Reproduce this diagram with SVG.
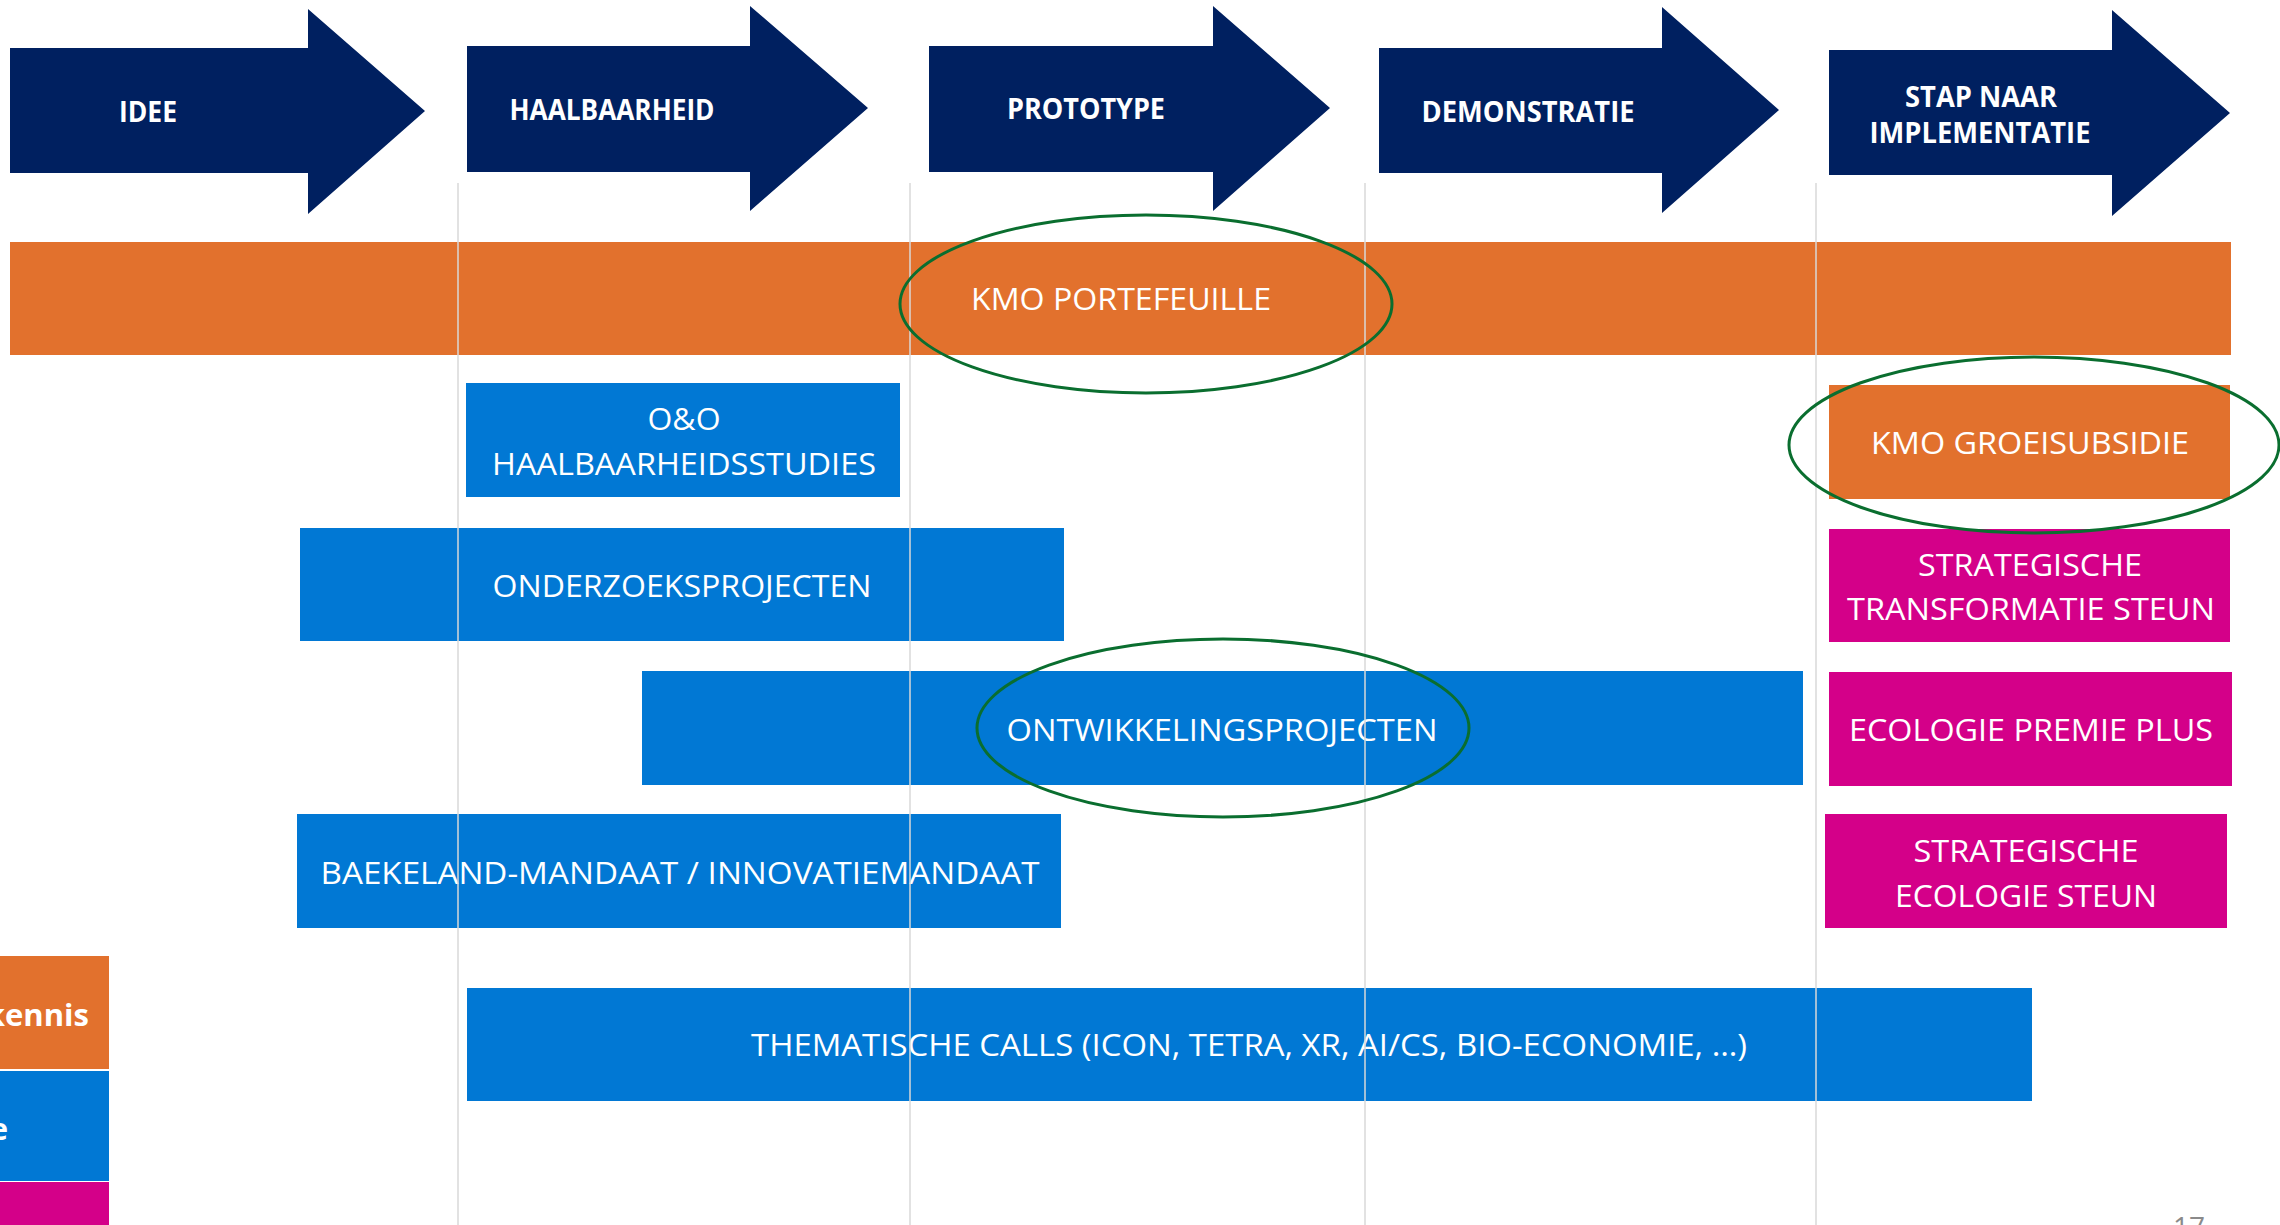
<svg xmlns="http://www.w3.org/2000/svg" width="2280" height="1225" viewBox="0 0 2280 1225">
<style>
.arrow{fill:#002060}
.hd{font-family:"Open Sans","Liberation Sans",sans-serif;font-weight:bold;font-size:29px;fill:#fff;text-anchor:middle}
.lb{font-family:"Open Sans","Liberation Sans",sans-serif;font-size:31px;fill:#fff;text-anchor:middle}
.lg{font-family:"Open Sans","Liberation Sans",sans-serif;font-weight:bold;font-size:31px;fill:#fff;text-anchor:end}
.or{fill:#E2712D}
.bl{fill:#0178D4}
.mg{fill:#D40089}
.grid{stroke:#D9D9D9;stroke-width:1.5}
.ring{fill:none;stroke:#0A6E2F;stroke-width:3}
</style>
<rect width="2280" height="1225" fill="#fff"/>

<g id="phase-idee">
<polygon class="arrow" points="10,48 308,48 308,9 425,111 308,214 308,173 10,173"/>
<text class="hd" x="148" y="122" textLength="58" lengthAdjust="spacingAndGlyphs">IDEE</text>
</g>
<g id="phase-haalbaarheid">
<polygon class="arrow" points="467,46 750,46 750,6 868,108 750,211 750,172 467,172"/>
<text class="hd" x="612" y="120" textLength="205" lengthAdjust="spacingAndGlyphs">HAALBAARHEID</text>
</g>
<g id="phase-prototype">
<polygon class="arrow" points="929,46 1213,46 1213,6 1330,108 1213,211 1213,172 929,172"/>
<text class="hd" x="1086" y="119" textLength="158" lengthAdjust="spacingAndGlyphs">PROTOTYPE</text>
</g>
<g id="phase-demonstratie">
<polygon class="arrow" points="1379,48 1662,48 1662,7 1779,110 1662,213 1662,173 1379,173"/>
<text class="hd" x="1528" y="122" textLength="213" lengthAdjust="spacingAndGlyphs">DEMONSTRATIE</text>
</g>
<g id="phase-implementatie">
<polygon class="arrow" points="1829,50 2112,50 2112,10 2230,113 2112,216 2112,175 1829,175"/>
<text class="hd" x="1981" y="107" textLength="152" lengthAdjust="spacingAndGlyphs">STAP NAAR</text>
<text class="hd" x="1980" y="143" textLength="221" lengthAdjust="spacingAndGlyphs">IMPLEMENTATIE</text>
</g>

<g id="kmo-portefeuille">
<rect class="or" x="10" y="242" width="2221" height="113"/>
<text class="lb" x="1121" y="310" textLength="300" lengthAdjust="spacingAndGlyphs">KMO PORTEFEUILLE</text>
</g>
<g id="oo-haalbaarheidsstudies">
<rect class="bl" x="466" y="383" width="434" height="114"/>
<text class="lb" x="684" y="430" textLength="73" lengthAdjust="spacingAndGlyphs">O&amp;O</text>
<text class="lb" x="684" y="475" textLength="384" lengthAdjust="spacingAndGlyphs">HAALBAARHEIDSSTUDIES</text>
</g>
<g id="kmo-groeisubsidie">
<rect class="or" x="1829" y="385" width="401" height="114"/>
<text class="lb" x="2030" y="454" textLength="318" lengthAdjust="spacingAndGlyphs">KMO GROEISUBSIDIE</text>
</g>
<g id="onderzoeksprojecten">
<rect class="bl" x="300" y="528" width="764" height="113"/>
<text class="lb" x="682" y="597" textLength="379" lengthAdjust="spacingAndGlyphs">ONDERZOEKSPROJECTEN</text>
</g>
<g id="strategische-transformatie-steun">
<rect class="mg" x="1829" y="529" width="401" height="113"/>
<text class="lb" x="2030" y="576" textLength="224" lengthAdjust="spacingAndGlyphs">STRATEGISCHE</text>
<text class="lb" x="2031" y="620" textLength="368" lengthAdjust="spacingAndGlyphs">TRANSFORMATIE STEUN</text>
</g>
<g id="ontwikkelingsprojecten">
<rect class="bl" x="642" y="671" width="1161" height="114"/>
<text class="lb" x="1222" y="741" textLength="431" lengthAdjust="spacingAndGlyphs">ONTWIKKELINGSPROJECTEN</text>
</g>
<g id="ecologie-premie-plus">
<rect class="mg" x="1829" y="672" width="403" height="114"/>
<text class="lb" x="2031" y="741" textLength="364" lengthAdjust="spacingAndGlyphs">ECOLOGIE PREMIE PLUS</text>
</g>
<g id="baekeland-mandaat">
<rect class="bl" x="297" y="814" width="764" height="114"/>
<text class="lb" x="680" y="884" textLength="719" lengthAdjust="spacingAndGlyphs">BAEKELAND-MANDAAT / INNOVATIEMANDAAT</text>
</g>
<g id="strategische-ecologie-steun">
<rect class="mg" x="1825" y="814" width="402" height="114"/>
<text class="lb" x="2026" y="862" textLength="225" lengthAdjust="spacingAndGlyphs">STRATEGISCHE</text>
<text class="lb" x="2026" y="907" textLength="262" lengthAdjust="spacingAndGlyphs">ECOLOGIE STEUN</text>
</g>
<g id="thematische-calls">
<rect class="bl" x="467" y="988" width="1565" height="113"/>
<text class="lb" x="1249" y="1056" textLength="996" lengthAdjust="spacingAndGlyphs">THEMATISCHE CALLS (ICON, TETRA, XR, AI/CS, BIO-ECONOMIE, …)</text>
</g>

<g id="legend">
<rect class="or" x="0" y="956" width="109" height="113"/>
<text class="lg" x="89" y="1026">kennis</text>
<rect class="bl" x="0" y="1071" width="109" height="110"/>
<text class="lg" x="8" y="1140">e</text>
<rect class="mg" x="0" y="1182" width="109" height="43"/>
</g>

<g id="connectors">
<line class="grid" x1="458" y1="183" x2="458" y2="1225"/>
<line class="grid" x1="910" y1="183" x2="910" y2="1225"/>
<line class="grid" x1="1365" y1="183" x2="1365" y2="1225"/>
<line class="grid" x1="1816" y1="183" x2="1816" y2="1225"/>
</g>

<g id="highlights">
<ellipse class="ring" cx="1146" cy="304" rx="246" ry="89"/>
<ellipse class="ring" cx="2034" cy="445" rx="245" ry="88"/>
<ellipse class="ring" cx="1223" cy="728" rx="246" ry="89"/>
</g>

<text x="2173" y="1237" font-family="'Open Sans','Liberation Sans',sans-serif" font-size="28" fill="#8A8A8A">17</text>
</svg>
